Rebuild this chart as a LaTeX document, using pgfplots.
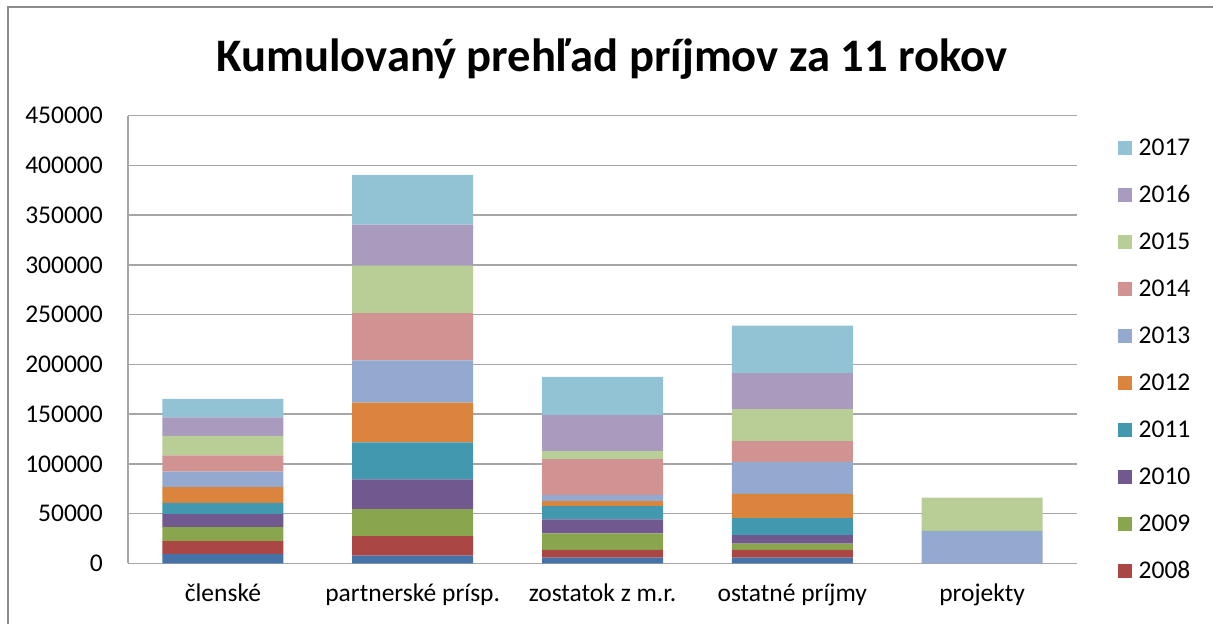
\documentclass[border=0pt]{standalone}
\usepackage{pgfplots}
\pgfplotsset{compat=1.18}
\usepackage{fontspec}
\setmainfont{Carlito}
\definecolor{c07}{HTML}{4572A7}
\definecolor{c08}{HTML}{AA4643}
\definecolor{c09}{HTML}{89A54E}
\definecolor{c10}{HTML}{71588F}
\definecolor{c11}{HTML}{4198AF}
\definecolor{c12}{HTML}{DB843D}
\definecolor{c13}{HTML}{93A9CF}
\definecolor{c14}{HTML}{D19392}
\definecolor{c15}{HTML}{B9CD96}
\definecolor{c16}{HTML}{A99BBD}
\definecolor{c17}{HTML}{92C3D5}
\definecolor{gridc}{HTML}{A6A6A6}
\definecolor{framec}{HTML}{8C8C8C}
\begin{document}
\begin{tikzpicture}[x=1bp,y=1bp]
\useasboundingbox (0,0) rectangle (1213,624);
\draw[color=framec, line width=2bp] (8.3,-5) -- (8.3,617.3) -- (1220,617.3);
\node[anchor=base, font=\fontsize{46.6bp}{50bp}\selectfont\bfseries] at (612,552.3) {Kumulovaný prehľad príjmov za 11 rokov};
\begin{axis}[
  at={(128bp,60.7bp)}, anchor=south west,
  width=949bp, height=447.6bp, scale only axis,
  ybar stacked, bar width=121bp,
  xmin=-0.5, xmax=4.5, ymin=0, ymax=450000,
  xtick={0,1,2,3,4},
  xticklabels={členské, partnerské prísp., zostatok z m.r., ostatné príjmy, projekty},
  ytick={0,50000,...,450000},
  scaled y ticks=false,
  axis x line*=bottom, axis y line*=left,
  axis line style={draw=gridc, line width=1.5bp, -},
  ymajorgrids, major grid style={draw=gridc, line width=1.5bp},
  major tick length=0,
  tick label style={font=\fontsize{25.5bp}{28bp}\selectfont, text=black},
  yticklabel style={/pgf/number format/fixed, /pgf/number format/1000 sep={}, /pgf/number format/assume math mode=true, anchor=east, inner sep=0pt, xshift=-25bp},
  xticklabel style={anchor=base, yshift=-38.7bp},
  legend style={draw=none, fill=none, at={(1.0432,0.9457)}, anchor=north west, inner sep=0pt, row sep=32bp, font=\fontsize{25.5bp}{28bp}\selectfont, nodes={inner xsep=0pt, inner ysep=0pt, text height=15bp, text depth=0bp}, /tikz/every odd column/.append style={column sep=6.5bp}},
  legend cell align=left,
  legend image code/.code={\fill[#1] (0bp,-7bp) rectangle (14bp,7bp);},
  reverse legend,
  clip=false,
]
\addplot[forget plot, fill=c07, draw=none] coordinates {(0,9500) (1,7600) (2,5600) (3,5600) (4,0)};
\addplot[fill=c08, draw=none] coordinates {(0,12800) (1,19800) (2,7800) (3,7800) (4,0)};
\addlegendentry{2008}
\addplot[fill=c09, draw=none] coordinates {(0,14000) (1,27100) (2,16700) (3,6300) (4,0)};
\addlegendentry{2009}
\addplot[fill=c10, draw=none] coordinates {(0,13100) (1,29800) (2,14100) (3,8700) (4,0)};
\addlegendentry{2010}
\addplot[fill=c11, draw=none] coordinates {(0,11300) (1,37200) (2,13300) (3,17100) (4,0)};
\addlegendentry{2011}
\addplot[fill=c12, draw=none] coordinates {(0,15800) (1,40100) (2,5000) (3,24400) (4,0)};
\addlegendentry{2012}
\addplot[fill=c13, draw=none] coordinates {(0,15700) (1,42500) (2,6100) (3,32100) (4,32700)};
\addlegendentry{2013}
\addplot[fill=c14, draw=none] coordinates {(0,16400) (1,47500) (2,36100) (3,20800) (4,0)};
\addlegendentry{2014}
\addplot[fill=c15, draw=none] coordinates {(0,19400) (1,47600) (2,8000) (3,32100) (4,33200)};
\addlegendentry{2015}
\addplot[fill=c16, draw=none] coordinates {(0,18800) (1,41400) (2,36200) (3,36200) (4,0)};
\addlegendentry{2016}
\addplot[fill=c17, draw=none] coordinates {(0,18400) (1,50000) (2,38400) (3,47900) (4,0)};
\addlegendentry{2017}
\end{axis}
\end{tikzpicture}
\end{document}
